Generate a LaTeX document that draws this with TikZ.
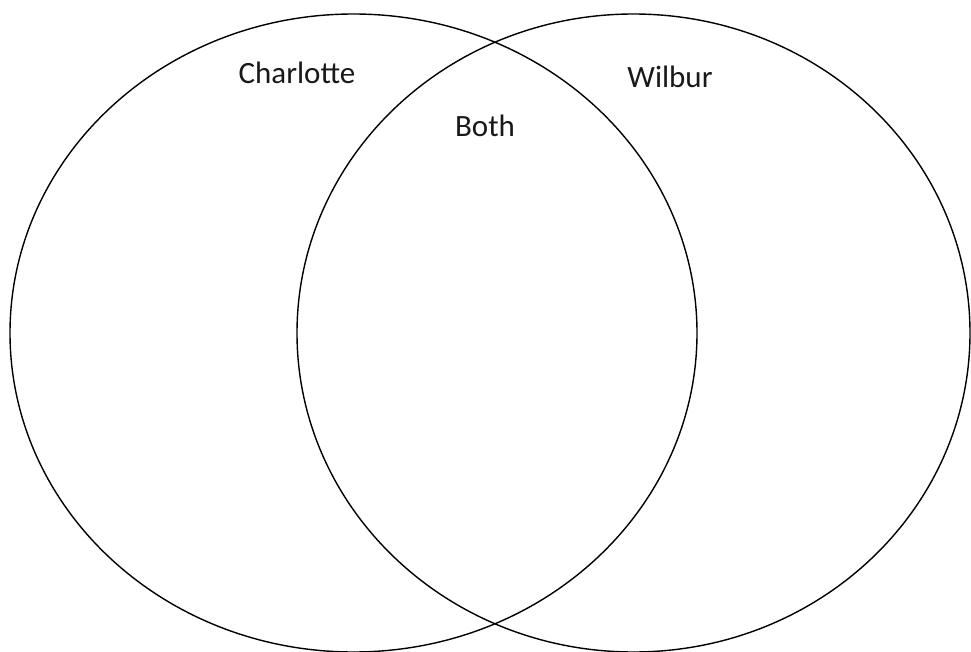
\documentclass[tikz,border=0pt]{standalone}
\usepackage{fontspec}
\setmainfont{Carlito}
\begin{document}
\begin{tikzpicture}[x=1pt,y=-1pt,
  ring/.style={draw=black,line width=1.4pt},
  lbl/.style={font=\fontsize{31}{35}\selectfont,text=black!90,inner sep=0pt,anchor=base}]
\useasboundingbox (0,0) rectangle (971,652);
\draw[ring] (353.5,333) ellipse [x radius=343.5, y radius=319];
\draw[ring] (633.5,333) ellipse [x radius=336.5, y radius=319];
\node[lbl] (charlotte) at (297,84) {Charlotte};
\node[lbl] (both) at (485,137) {Both};
\node[lbl] (wilbur) at (670,88) {Wilbur};
\end{tikzpicture}
\end{document}
